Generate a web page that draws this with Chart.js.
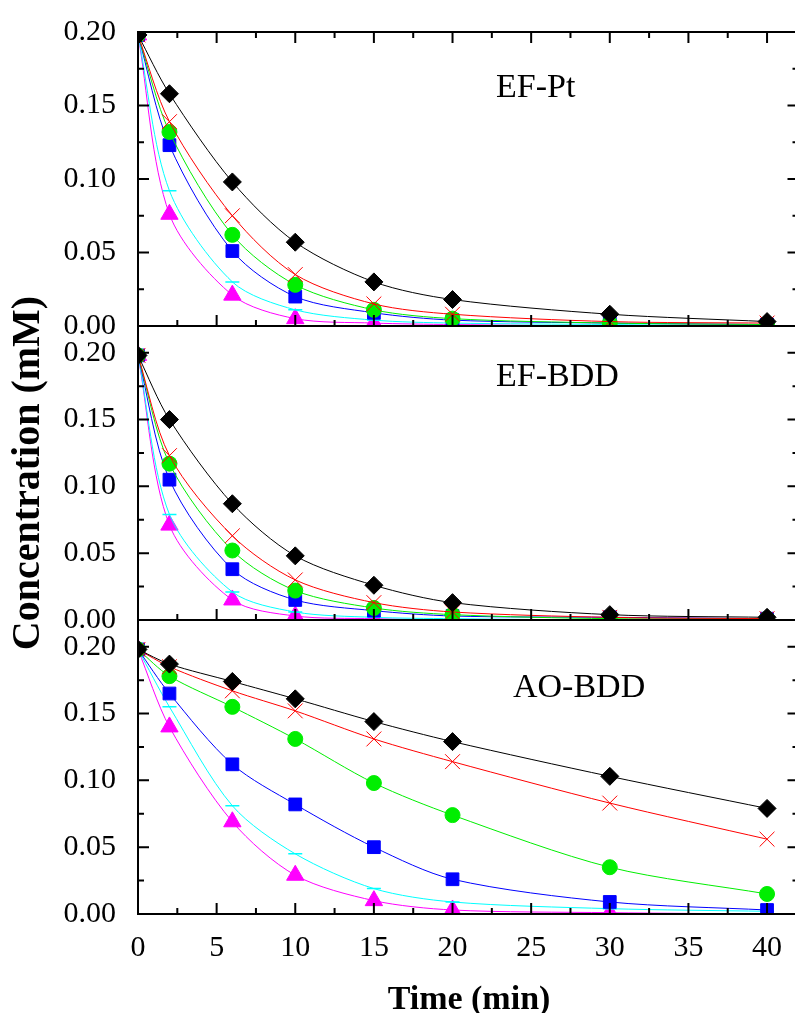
<!DOCTYPE html>
<html lang="en">
<head>
    <meta charset="UTF-8">
    <title>Concentration vs time</title>
    <style>
        body {
            margin: 0;
            padding: 0;
            background-color: white;
            overflow: hidden;
        }
        .wrap {
            width: 795px;
            height: 1013px;
            overflow: hidden;
            position: relative;
        }
        #chart {
            position: absolute;
            left: 0;
            top: 0;
        }
    </style>
</head>
<body>
    <div class="wrap">
        <canvas id="chart" width="810" height="1013"></canvas>
    </div>
    <script src="https://cdn.jsdelivr.net/npm/chart.js"></script>
    <script>
        // sampling times (min)
        const timeMin = [0, 2, 6, 10, 15, 20, 30, 40];
        const xTicks = [0, 5, 10, 15, 20, 25, 30, 35, 40];
        const yTicks = [0, 0.05, 0.10, 0.15, 0.20];
        const panelNames = ['EF-Pt', 'EF-BDD', 'AO-BDD'];

        // EF-Pt
        const efPtBlack   = [0.198, 0.158, 0.098, 0.057, 0.030, 0.018, 0.008, 0.003];
        const efPtRed     = [0.198, 0.139, 0.075, 0.035, 0.015, 0.008, 0.003, 0.002];
        const efPtGreen   = [0.198, 0.132, 0.062, 0.028, 0.011, 0.005, 0.002, 0.001];
        const efPtBlue    = [0.198, 0.123, 0.051, 0.020, 0.009, 0.004, 0.002, 0.001];
        const efPtCyan    = [0.198, 0.092, 0.030, 0.011, 0.004, 0.002, 0.001, 0.000];
        const efPtMagenta = [0.198, 0.076, 0.021, 0.005, 0.002, 0.001, 0.000, 0.000];

        // EF-BDD
        const efBddBlack   = [0.198, 0.150, 0.087, 0.048, 0.026, 0.013, 0.004, 0.002];
        const efBddRed     = [0.198, 0.123, 0.063, 0.030, 0.013, 0.006, 0.002, 0.001];
        const efBddGreen   = [0.198, 0.117, 0.052, 0.022, 0.009, 0.004, 0.001, 0.001];
        const efBddBlue    = [0.198, 0.105, 0.038, 0.015, 0.007, 0.003, 0.002, 0.001];
        const efBddCyan    = [0.198, 0.079, 0.021, 0.006, 0.002, 0.001, 0.000, 0.000];
        const efBddMagenta = [0.198, 0.071, 0.015, 0.003, 0.001, 0.000, 0.000, 0.000];

        // AO-BDD
        const aoBddBlack   = [0.198, 0.187, 0.174, 0.161, 0.144, 0.129, 0.103, 0.079];
        const aoBddRed     = [0.198, 0.185, 0.167, 0.152, 0.131, 0.114, 0.083, 0.056];
        const aoBddGreen   = [0.198, 0.178, 0.155, 0.131, 0.098, 0.074, 0.035, 0.015];
        const aoBddBlue    = [0.198, 0.165, 0.112, 0.082, 0.050, 0.026, 0.009, 0.003];
        const aoBddCyan    = [0.198, 0.155, 0.081, 0.045, 0.019, 0.009, 0.004, 0.002];
        const aoBddMagenta = [0.198, 0.140, 0.069, 0.029, 0.010, 0.003, 0.001, 0.000];

        const panelSeries = [
            [efPtBlack, efPtRed, efPtGreen, efPtBlue, efPtCyan, efPtMagenta],
            [efBddBlack, efBddRed, efBddGreen, efBddBlue, efBddCyan, efBddMagenta],
            [aoBddBlack, aoBddRed, aoBddGreen, aoBddBlue, aoBddCyan, aoBddMagenta]
        ];
        const panelMax = [0.20, 0.22, 0.22];
        const panelIds = ['y1', 'y2', 'y3'];

        // marker look for each series (same order in every panel)
        const seriesStyle = [
            { color: '#000000', pointStyle: 'rectRot',  radius: 9,    fill: true },
            { color: '#ff0000', pointStyle: 'crossRot', radius: 10.5, fill: false },
            { color: '#00ee00', pointStyle: 'circle',   radius: 7.5,  fill: true },
            { color: '#0000ff', pointStyle: 'rect',     radius: 9,    fill: true },
            { color: '#00ffff', pointStyle: 'line',     radius: 7,    fill: false },
            { color: '#ff00ff', pointStyle: 'triangle', radius: 10,   fill: true }
        ];

        const serif = "'Liberation Serif', 'Times New Roman', serif";

        const datasets = [];
        panelSeries.forEach((list, p) => {
            list.forEach((vals, s) => {
                const st = seriesStyle[s];
                datasets.push({
                    label: panelNames[p] + ' ' + (s + 1),
                    data: timeMin.map((t, i) => ({ x: t, y: vals[i] })),
                    xAxisID: 'x',
                    yAxisID: panelIds[p],
                    borderColor: st.color,
                    borderWidth: 1,
                    tension: 0.3,
                    pointStyle: st.pointStyle,
                    pointRadius: st.radius,
                    pointBackgroundColor: st.fill ? st.color : 'rgba(0,0,0,0)',
                    pointBorderColor: st.color,
                    pointBorderWidth: st.pointStyle === 'line' ? 1.5 : 1
                });
            });
        });

        function yScale(p) {
            return {
                type: 'linear',
                position: 'left',
                stack: 'panels',
                stackWeight: 1,
                weight: 3 - p,
                min: 0,
                max: panelMax[p],
                grid: { display: false },
                border: { display: false },
                afterBuildTicks: s => { s.ticks = yTicks.map(v => ({ value: v })); },
                afterFit: s => { s.width = 138; },
                ticks: {
                    padding: 14,
                    color: '#000',
                    font: { family: serif, size: 30 },
                    callback: v => Number(v).toFixed(2)
                }
            };
        }

        // frame box + inward ticks + texts, done like Origin
        const framePlugin = {
            id: 'frame',
            afterDatasetsDraw(chart) {
                const ctx = chart.ctx;
                const xs = chart.scales.x;
                const L = xs.left, R = xs.right;
                ctx.save();
                ctx.strokeStyle = '#000';
                ctx.lineWidth = 2;
                panelIds.forEach((id, p) => {
                    const ys = chart.scales[id];
                    const T = ys.top, B = ys.bottom;
                    ctx.strokeRect(L, T, R - L, B - T);
                    ctx.beginPath();
                    for (let k = 0; k * 0.025 <= ys.max + 1e-9; k++) {
                        const py = ys.getPixelForValue(k * 0.025);
                        const len = k % 2 === 0 ? 11 : 6;
                        ctx.moveTo(L, py); ctx.lineTo(L + len, py);
                        ctx.moveTo(R, py); ctx.lineTo(R - len, py);
                    }
                    for (let k = 0; k * 2.5 <= xs.max + 1e-9; k++) {
                        const px = xs.getPixelForValue(k * 2.5);
                        const len = k % 2 === 0 ? 11 : 6;
                        ctx.moveTo(px, B); ctx.lineTo(px, B - len);
                        if (p === 0) {
                            ctx.moveTo(px, T); ctx.lineTo(px, T + len);
                        }
                    }
                    ctx.stroke();
                });
                ctx.restore();
            },
            afterDraw(chart) {
                const ctx = chart.ctx;
                ctx.save();
                ctx.fillStyle = '#000';
                ctx.textBaseline = 'alphabetic';

                // panel names
                ctx.font = '34px ' + serif;
                ctx.textAlign = 'left';
                const nameX = [496, 496, 513];
                const nameY = [97, 386, 697];
                panelNames.forEach((n, i) => ctx.fillText(n, nameX[i], nameY[i]));

                // axis titles
                ctx.font = 'bold 34px ' + serif;
                ctx.textAlign = 'center';
                ctx.fillText('Time (min)', 469, 1009);

                ctx.font = 'bold 40px ' + serif;
                ctx.translate(39, 473);
                ctx.rotate(-Math.PI / 2);
                ctx.fillText('Concentration (mM)', 0, 0);
                ctx.restore();
            }
        };

        new Chart(document.getElementById('chart'), {
            type: 'line',
            data: { datasets: datasets },
            options: {
                responsive: false,
                animation: false,
                devicePixelRatio: 1,
                layout: { padding: { left: 0, top: 27, right: 8, bottom: 0 } },
                plugins: {
                    legend: { display: false },
                    tooltip: { enabled: false }
                },
                scales: {
                    x: {
                        type: 'linear',
                        position: 'bottom',
                        min: 0,
                        max: 42,
                        grid: { display: false },
                        border: { display: false },
                        afterBuildTicks: s => { s.ticks = xTicks.map(v => ({ value: v })); },
                        afterFit: s => { s.height = 99; },
                        ticks: {
                            padding: 8,
                            maxRotation: 0,
                            color: '#000',
                            font: { family: serif, size: 30 }
                        }
                    },
                    y1: yScale(0),
                    y2: yScale(1),
                    y3: yScale(2)
                }
            },
            plugins: [framePlugin]
        });
    </script>
</body>
</html>
